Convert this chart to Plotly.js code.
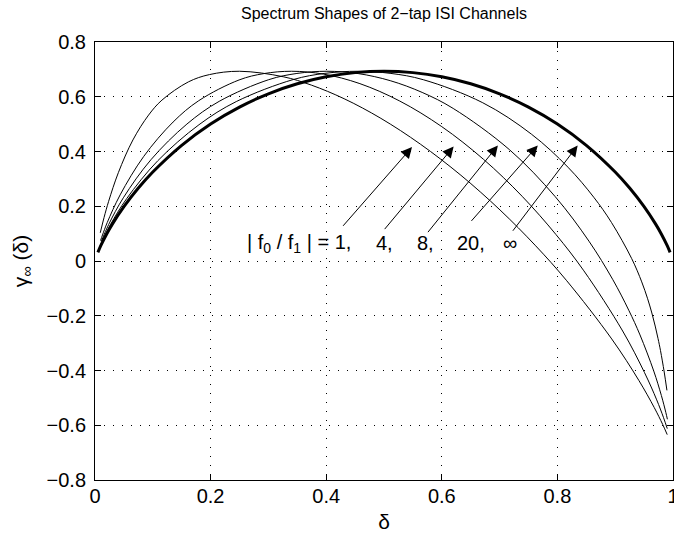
<!DOCTYPE html>
<html>
<head>
<meta charset="utf-8">
<script src="https://cdn.plot.ly/plotly-3.0.1.min.js"></script>
<style>html,body{margin:0;padding:0;background:#fff}#chart{width:674px;height:540px}</style>
</head>
<body>
<div id="chart"></div>
<script>
// |f0/f1| = 1
const delta1 = [0.0091,0.0156,0.0236,0.0404,0.0656,0.0927,0.1158,0.1616,0.1979,0.2500,0.3256,0.3744,0.4310,0.4946,0.5630,0.6331,0.7008,0.7624,0.8155,0.8940,0.9411,0.9676,0.9821,0.9900];
const gamma1 = [0.1030,0.1584,0.2180,0.3227,0.4422,0.5330,0.5877,0.6543,0.6809,0.6931,0.6731,0.6425,0.5928,0.5211,0.4268,0.3131,0.1863,0.0555,-0.0705,-0.2848,-0.4369,-0.5356,-0.5968,-0.6343];
// |f0/f1| = 4
const delta4 = [0.0096,0.0130,0.0212,0.0435,0.0843,0.1351,0.1794,0.2492,0.2915,0.3400,0.3955,0.4583,0.5273,0.5999,0.6720,0.7390,0.7975,0.8458,0.9129,0.9508,0.9718,0.9834,0.9901];
const gamma4 = [0.0746,0.0951,0.1406,0.2415,0.3820,0.5076,0.5855,0.6613,0.6844,0.6931,0.6827,0.6479,0.5843,0.4909,0.3717,0.2363,0.0967,-0.0359,-0.2557,-0.4080,-0.5072,-0.5710,-0.6123];
// |f0/f1| = 8
const delta8 = [0.0109,0.0239,0.0490,0.0967,0.1590,0.2148,0.3006,0.3493,0.4012,0.4554,0.5107,0.5660,0.6197,0.7175,0.7963,0.8546,0.8955,0.9235,0.9429,0.9667,0.9799,0.9877,0.9903];
const gamma8 = [0.0718,0.1343,0.2308,0.3698,0.5002,0.5832,0.6624,0.6851,0.6931,0.6846,0.6588,0.6158,0.5573,0.4058,0.2349,0.0724,-0.0667,-0.1799,-0.2701,-0.4020,-0.4914,-0.5541,-0.5781];
// |f0/f1| = 20
const delta20 = [0.0091,0.0122,0.0267,0.0548,0.1086,0.1799,0.2444,0.3429,0.3977,0.4546,0.5120,0.5681,0.6709,0.7550,0.8182,0.8630,0.8936,0.9286,0.9459,0.9561,0.9634,0.9692,0.9741,0.9783,0.9848,0.9895];
const gamma20 = [0.0559,0.0711,0.1326,0.2278,0.3662,0.4978,0.5824,0.6628,0.6854,0.6931,0.6852,0.6622,0.5781,0.4635,0.3428,0.2327,0.1405,0.0085,-0.0763,-0.1380,-0.1899,-0.2376,-0.2832,-0.3265,-0.4056,-0.4726];
// |f0/f1| = infinity (thick curve)
const deltaInf = [0.005,0.01,0.02,0.03,0.05,0.075,0.1,0.15,0.2,0.25,0.3,0.35,0.4,0.45,0.5,0.55,0.6,0.65,0.7,0.75,0.8,0.85,0.9,0.925,0.95,0.97,0.98,0.99,0.995];
const gammaInf = [0.0315,0.0560,0.0980,0.1347,0.1985,0.2664,0.3251,0.4227,0.5004,0.5623,0.6109,0.6474,0.6730,0.6881,0.6931,0.6881,0.6730,0.6474,0.6109,0.5623,0.5004,0.4227,0.3251,0.2664,0.1985,0.1347,0.0980,0.0560,0.0315];

const ratioLabels = ['| f<sub>0</sub> / f<sub>1</sub> | = 1,', '4,', '8,', '20,', '∞'];
const labelX = [0.3526, 0.5005, 0.5723, 0.651, 0.7185];
const labelY = [0.064, 0.064, 0.064, 0.064, 0.064];
const arrowTip  = [[0.5485,0.416],[0.6205,0.418],[0.697,0.422],[0.766,0.422],[0.835,0.422]];
const arrowTail = [[0.427,0.123],[0.499,0.111],[0.574,0.100],[0.649,0.141],[0.721,0.105]];

const thinLine = {color:'#000', width:1, shape:'spline', smoothing:1};
const traces = [
  {x:delta1, y:gamma1, mode:'lines', line:thinLine},
  {x:delta4, y:gamma4, mode:'lines', line:thinLine},
  {x:delta8, y:gamma8, mode:'lines', line:thinLine},
  {x:delta20, y:gamma20, mode:'lines', line:thinLine},
  {x:deltaInf, y:gammaInf, mode:'lines', line:{color:'#000', width:3, shape:'spline', smoothing:1}}
];

const fam = '"Liberation Sans", Arial, Helvetica, sans-serif';
const f = (size) => ({family:fam, size:size, color:'#000'});
const annotations = [];
for (let i=0;i<arrowTip.length;i++){
  annotations.push({x:arrowTip[i][0], y:arrowTip[i][1], ax:arrowTail[i][0], ay:arrowTail[i][1],
    xref:'x', yref:'y', axref:'x', ayref:'y', text:'', showarrow:true,
    arrowhead:2, arrowsize:2.2, arrowwidth:1, arrowcolor:'#000'});
}
for (let i=0;i<ratioLabels.length;i++){
  annotations.push({x:labelX[i], y:labelY[i], xref:'x', yref:'y', text:ratioLabels[i], showarrow:false,
    font:f(20), xanchor:'center', yanchor:'middle'});
}

const axisCommon = {
  showline:true, linecolor:'#000', linewidth:1, mirror:'ticks',
  ticks:'inside', ticklen:6, tickcolor:'#000', tickwidth:1,
  showgrid:true, gridcolor:'#000', gridwidth:1, griddash:'1px,8px',
  zeroline:false, tickfont:f(20), ticklabeloverflow:'allow'
};

const layout = {
  width:674, height:540,
  margin:{l:95, r:1, t:42, b:60},
  paper_bgcolor:'#fff', plot_bgcolor:'#fff',
  showlegend:false,
  title:{text:'Spectrum Shapes of 2−tap ISI Channels', font:f(16), x:0.5, xref:'paper', y:0.975, yanchor:'middle'},
  xaxis:Object.assign({}, axisCommon, {range:[0,1], dtick:0.2, tick0:0, ticklabelstandoff:-2,
    title:{text:'δ', font:f(21), standoff:8}}),
  yaxis:Object.assign({}, axisCommon, {range:[-0.8,0.8], dtick:0.2, tick0:0, ticklabelstandoff:4,
    title:{text:'γ<sub>∞</sub> (δ)', font:f(21), standoff:12}}),
  annotations:annotations
};

Plotly.newPlot('chart', traces, layout, {displayModeBar:false, staticPlot:true});
</script>
</body>
</html>
